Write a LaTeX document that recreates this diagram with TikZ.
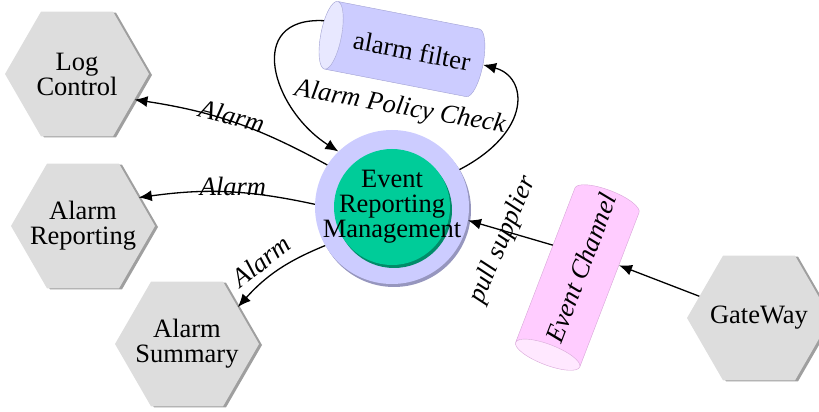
\documentclass[tikz,border=0pt]{standalone}
\usepackage{fontspec}
\setmainfont{Liberation Serif}
\usetikzlibrary{shapes.geometric}
\usetikzlibrary{shadows}
\usetikzlibrary{arrows.meta}
\definecolor{lavender}{RGB}{204,204,255}
\definecolor{ermgreen}{RGB}{0,204,153}
\definecolor{channelpink}{RGB}{255,204,255}
\definecolor{hexgray}{RGB}{221,221,221}
\tikzstyle{every node}=[font=\fontsize{26.5}{25}\selectfont, align=center]

\begin{document}
\begin{tikzpicture}[x=1pt, y=1pt,
    hexmodule/.style={%
        regular polygon, regular polygon sides=6,
        minimum size=144pt, inner sep=0pt,
        fill=hexgray,
        drop shadow={shadow xshift=3pt, shadow yshift=-1pt, fill=gray!75, opacity=1}},
    pipebox/.style={%
        cylinder, shape border rotate=180, aspect=0.3,
        cylinder uses custom fill, inner xsep=4pt, inner ysep=25pt},
    flowarrow/.style={%
        -{Latex[length=13pt, width=11pt]}, line width=1.3pt},
    flowlabel/.style={font=\fontsize{26.5}{25}\selectfont\itshape},
]
    \useasboundingbox (0,0) rectangle (819,412);

    % Modules
    \node[hexmodule] (logc) at (77,338) {};
    \node (logctext) at (logc) {Log\\Control};
    \node[hexmodule] (arep) at (83,186) {};
    \node (areptext) at (arep) {Alarm\\Reporting};
    \node[hexmodule] (asum) at (187,68) {};
    \node (asumtext) at (asum) {Alarm\\Summary};
    \node[hexmodule] (gate) at (759,94) {};
    \node (gatetext) at (gate) {GateWay};

    % Event Reporting Management
    \node[circle, minimum size=154pt, fill=lavender,
        drop shadow={shadow xshift=2pt, shadow yshift=-3pt, fill={rgb,255:red,150;green,150;blue,190}, opacity=1}]
        (erm) at (392,205) {};
    \node[circle, minimum size=116pt, fill=ermgreen,
        drop shadow={shadow xshift=2pt, shadow yshift=-3pt, fill={rgb,255:red,0;green,140;blue,105}, opacity=1}]
        (ermcore) at (erm.center) {};
    \node (ermtext) at (erm.center) {Event\\Reporting\\Management};

    % Filter and channel
    \node[pipebox, rotate=-11, minimum height=165pt,
        cylinder body fill=lavender, cylinder end fill=lavender!45!white,
        draw={rgb,255:red,160;green,160;blue,210}, thin]
        (filter) at (412,361) {alarm filter};
    \node[pipebox, rotate=69, minimum height=178pt,
        cylinder body fill=channelpink, cylinder end fill=channelpink!45!white,
        draw={rgb,255:red,215;green,165;blue,215}, thin]
        (channel) at (581,144) {\itshape Event Channel};

    % Alarms
    \draw[flowarrow] (erm.147) to[bend right=10] (logc.-24);
    \draw[flowarrow] (erm.178) to[bend right=10] (arep.27);
    \draw[flowarrow] (erm.210) to[bend right=13] (asum.36);
    %
    \draw[flowarrow] (filter.172) .. controls +(-80,4) and +(-66,42) .. (erm.134);
    \draw[flowarrow] (erm.29) .. controls +(73,38) and +(45,-12) .. (filter.east);
    %
    \draw[flowarrow] (channel.72) -- (erm.-10);
    \draw[flowarrow] (gate.160) -- (channel.-65);

    % Labels
    \node[flowlabel, rotate=-14] (alarm1) at (232,296) {Alarm};
    \node[flowlabel] (alarm2) at (233,226) {Alarm};
    \node[flowlabel, rotate=38] (alarm3) at (261,151) {Alarm};
    \node[flowlabel, rotate=-10] (policy) at (400,304) {Alarm Policy Check};
    \node[flowlabel, rotate=67] (pull) at (503,172) {pull supplier};
\end{tikzpicture}
\end{document}
